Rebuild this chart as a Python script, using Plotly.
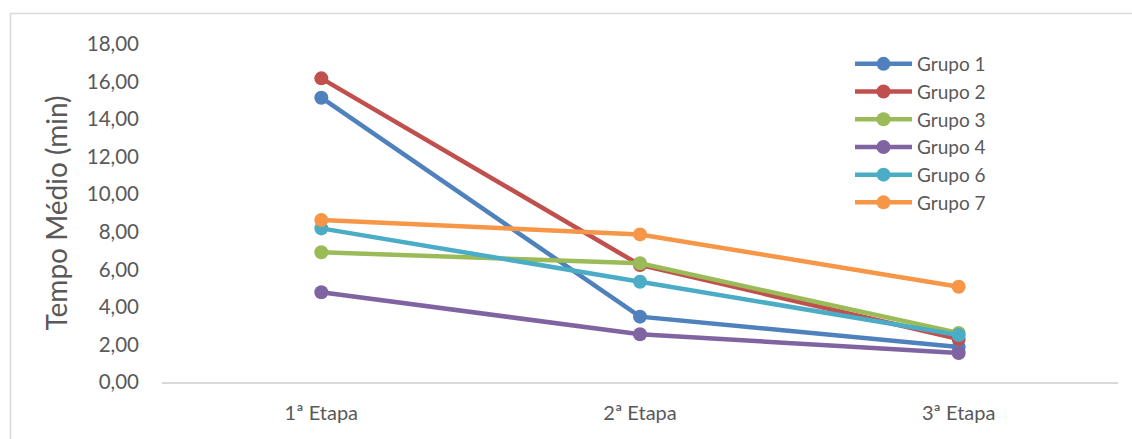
import plotly.graph_objects as go

categories = ["1ª Etapa", "2ª Etapa", "3ª Etapa"]
series_names = ["Grupo 1", "Grupo 2", "Grupo 3", "Grupo 4", "Grupo 6", "Grupo 7"]
grupo1 = [15.14, 3.48, 1.86]
grupo2 = [16.17, 6.23, 2.29]
grupo3 = [6.91, 6.32, 2.61]
grupo4 = [4.78, 2.54, 1.54]
grupo6 = [8.18, 5.34, 2.50]
grupo7 = [8.63, 7.86, 5.07]
series_values = [grupo1, grupo2, grupo3, grupo4, grupo6, grupo7]
colors = ["#4F81BD", "#C0504D", "#9BBB59", "#8064A2", "#4BACC6", "#F79646"]
y_tickvals = [0, 2, 4, 6, 8, 10, 12, 14, 16, 18]
y_ticktext = ["0,00", "2,00", "4,00", "6,00", "8,00", "10,00", "12,00", "14,00", "16,00", "18,00"]

FONT = "Lato"
GREY = "#595959"

fig = go.Figure()
for name, vals, col in zip(series_names, series_values, colors):
    fig.add_trace(go.Scatter(
        x=categories, y=vals, name=name, mode="lines+markers",
        line=dict(color=col, width=4.5),
        marker=dict(color=col, size=14),
    ))

W, H = 1132, 439
L, R, T, B = 162, 14, 44, 57
pw = W - L - R
ph = H - T - B

def px_x(p):
    return (p - L) / pw

def px_y(p):
    return (H - B - p) / ph

fig.update_layout(
    width=W, height=H,
    margin=dict(l=L, r=R, t=T, b=B),
    paper_bgcolor="white", plot_bgcolor="white",
    font=dict(family=FONT, color=GREY, size=20),
    showlegend=True,
    legend=dict(
        x=px_x(850), y=px_y(45), xanchor="left", yanchor="top",
        font=dict(family=FONT, size=19, color=GREY),
        bgcolor="rgba(0,0,0,0)", itemwidth=57, tracegroupgap=0,
    ),
    xaxis=dict(
        type="category", range=[-0.5, 2.5],
        showgrid=False, zeroline=False,
        showline=True, linecolor="#D9D9D9", linewidth=1.5,
        ticks="", ticklabelstandoff=12,
        tickfont=dict(family=FONT, size=20, color=GREY),
    ),
    yaxis=dict(
        range=[0, 18], tickvals=y_tickvals, ticktext=y_ticktext,
        showgrid=False, zeroline=False, showline=False,
        ticks="", ticklabelstandoff=22,
        tickfont=dict(family=FONT, size=20.5, color=GREY),
        title=dict(text="Tempo Médio (min)", standoff=10,
                   font=dict(family=FONT, size=28, color=GREY)),
    ),
    shapes=[dict(
        type="rect", xref="paper", yref="paper",
        x0=px_x(10.5), x1=px_x(1145), y0=px_y(450), y1=px_y(13.5),
        line=dict(color="#D9D9D9", width=1.5), fillcolor="rgba(0,0,0,0)",
        layer="below",
    )],
)

fig.write_html("out.html")
